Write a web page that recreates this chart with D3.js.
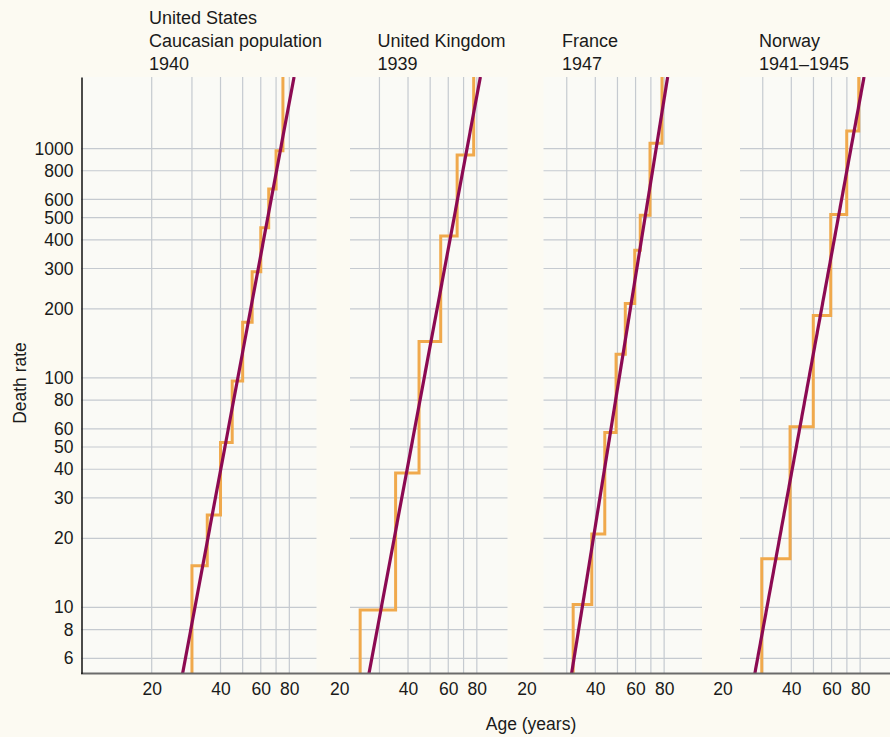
<!DOCTYPE html>
<html>
<head>
<meta charset="utf-8">
<script src="https://cdn.jsdelivr.net/npm/d3@7"></script>
<style>
  html, body { margin: 0; padding: 0; background: #fcfaf2; }
  svg { display: block; font-family: "Liberation Sans", Arial, Helvetica, sans-serif; }
</style>
</head>
<body>
<svg id="chart"></svg>
<script>
// ---- data ----
const panelNames = ['United States', 'United Kingdom', 'France', 'Norway'];
const panelTitles = [
  ['United States', 'Caucasian population', '1940'],
  ['United Kingdom', '1939'],
  ['France', '1947'],
  ['Norway', '1941–1945']
];

// age group edges and death rate for each group (first/last run off the chart)
const usAges     = [25, 30, 35, 40, 45, 50, 55, 60, 65, 70, 75, 80];
const usRates    = [4, 15.2, 25.3, 52.3, 97, 175, 290, 451, 667, 977, 2400];
const ukAges     = [20, 24.7, 35.3, 44.7, 55.6, 65.6, 77.5, 85];
const ukRates    = [4, 9.75, 38.5, 144, 416, 937, 2400];
const frAges     = [25, 32, 38.6, 44, 49.3, 54.1, 59.5, 62.9, 69.4, 78.3, 85];
const frRates    = [4, 10.3, 20.9, 57.8, 127, 211, 360, 512, 1055, 2400];
const noAges     = [25, 29.7, 39.5, 49.9, 59.5, 69.9, 78.9, 85];
const noRates    = [4, 16.3, 61.3, 187, 516, 1191, 2400];

// fitted straight lines: [age, rate] at the bottom and top of the plot
const usFit = [[27.3, 5.15], [83.9, 2050]];
const ukFit = [[27.0, 5.15], [82.9, 2050]];
const frFit = [[31.5, 5.15], [82.9, 2050]];
const noFit = [[27.7, 5.15], [83.2, 2050]];

const yTicks = [6, 8, 10, 20, 30, 40, 50, 60, 80, 100, 200, 300, 400, 500, 600, 800, 1000];
const xTickLabels = [20, 40, 60, 80];
const xGridAges = [20, 30, 40, 50, 60, 70, 80];

const stepAges = [usAges, ukAges, frAges, noAges];
const stepRates = [usRates, ukRates, frRates, noRates];
const fits = [usFit, ukFit, frFit, noFit];

// ---- layout ----
const WIDTH = 890, HEIGHT = 737;
const TOP = 77, BOTTOM = 673.5, AXIS_X = 81;
const DECADE = 228.6; // px per decade on the age axis
const FONT = '"Liberation Sans", Arial, sans-serif';
// left edge, right edge, x of age 20 for each panel
const panelBox = [
  { left: 81,    right: 316.7, x20: 151.7, titleX: 149 },
  { left: 350,   right: 507.7, x20: 339.2, titleX: 377.5 },
  { left: 543.3, right: 702,   x20: 526.5, titleX: 562 },
  { left: 740,   right: 890,   x20: 722.5, titleX: 759 }
];

const svg = d3.select('#chart')
  .attr('width', WIDTH)
  .attr('height', HEIGHT);

svg.append('rect')
  .attr('width', WIDTH).attr('height', HEIGHT)
  .attr('fill', '#fcfaf2');

const y = d3.scaleLog().domain([5.15, 2050]).range([BOTTOM, TOP]);

const defs = svg.append('defs');

panelNames.forEach((name, i) => {
  const box = panelBox[i];
  const x = d3.scaleLog()
    .domain([10, 100])
    .range([box.x20 - Math.log10(2) * DECADE, box.x20 + Math.log10(5) * DECADE]);

  defs.append('clipPath').attr('id', 'clip' + i)
    .append('rect')
    .attr('x', box.left).attr('y', TOP)
    .attr('width', box.right - box.left).attr('height', BOTTOM - TOP);

  const g = svg.append('g').attr('clip-path', `url(#clip${i})`);

  g.append('rect')
    .attr('x', box.left).attr('y', TOP)
    .attr('width', box.right - box.left).attr('height', BOTTOM - TOP)
    .attr('fill', '#fafaf6');

  // grid
  g.selectAll('.hgrid').data(yTicks).join('line')
    .attr('x1', box.left).attr('x2', box.right)
    .attr('y1', d => y(d)).attr('y2', d => y(d))
    .attr('stroke', '#c5cad0').attr('stroke-width', 1.2);

  g.selectAll('.vgrid').data(xGridAges).join('line')
    .attr('x1', d => x(d)).attr('x2', d => x(d))
    .attr('y1', TOP).attr('y2', BOTTOM)
    .attr('stroke', '#c5cad0').attr('stroke-width', 1.2);

  // step curve
  const ages = stepAges[i], rates = stepRates[i];
  const pts = rates.map((r, j) => [ages[j], r]);
  pts.push([ages[ages.length - 1], rates[rates.length - 1]]);

  const step = d3.line()
    .x(d => x(d[0]))
    .y(d => y(d[1]))
    .curve(d3.curveStepAfter);

  g.append('path')
    .datum(pts)
    .attr('fill', 'none')
    .attr('stroke', '#f0a94c')
    .attr('stroke-width', 3)
    .attr('d', step);

  // fitted line
  g.append('path')
    .datum(fits[i])
    .attr('fill', 'none')
    .attr('stroke', '#8c0a52')
    .attr('stroke-width', 3.2)
    .attr('d', d3.line().x(d => x(d[0])).y(d => y(d[1])));

  // x tick labels
  const ax = svg.append('g')
    .attr('transform', `translate(0,${BOTTOM})`)
    .call(d3.axisBottom(x).tickValues(xTickLabels).tickSize(0).tickPadding(9.5).tickFormat(d3.format('d')));
  ax.select('.domain').remove();
  ax.selectAll('text')
    .attr('font-size', 17.5)
    .attr('font-family', FONT)
    .attr('fill', '#1a1a1a');

  // titles
  const lines = panelTitles[i];
  const baselines = [24, 47, 69.5].slice(3 - lines.length);
  svg.append('text')
    .attr('font-size', 18)
    .attr('fill', '#1a1a1a')
    .selectAll('tspan').data(lines).join('tspan')
    .attr('x', box.titleX)
    .attr('y', (d, j) => baselines[j])
    .text(d => d);
});

// bottom axis line spanning all panels
svg.append('line')
  .attr('x1', AXIS_X).attr('x2', WIDTH)
  .attr('y1', BOTTOM).attr('y2', BOTTOM)
  .attr('stroke', '#6b6b6b').attr('stroke-width', 2);

// y axis
const yAxis = svg.append('g')
  .attr('transform', `translate(${AXIS_X + 0.5},0)`)
  .call(d3.axisLeft(y).tickValues(yTicks).tickSize(0).tickSizeOuter(0).tickPadding(8).tickFormat(d3.format('d')));
yAxis.select('.domain').attr('stroke', '#111').attr('stroke-width', 1.5);
yAxis.selectAll('text')
  .attr('font-size', 17.5)
  .attr('font-family', FONT)
  .attr('fill', '#1a1a1a');

// axis titles
svg.append('text')
  .attr('x', 531).attr('y', 730)
  .attr('text-anchor', 'middle')
  .attr('font-size', 17.5).attr('fill', '#1a1a1a')
  .text('Age (years)');

svg.append('text')
  .attr('transform', 'translate(26,383) rotate(-90)')
  .attr('text-anchor', 'middle')
  .attr('font-size', 17.5).attr('fill', '#1a1a1a')
  .text('Death rate');
</script>
</body>
</html>
